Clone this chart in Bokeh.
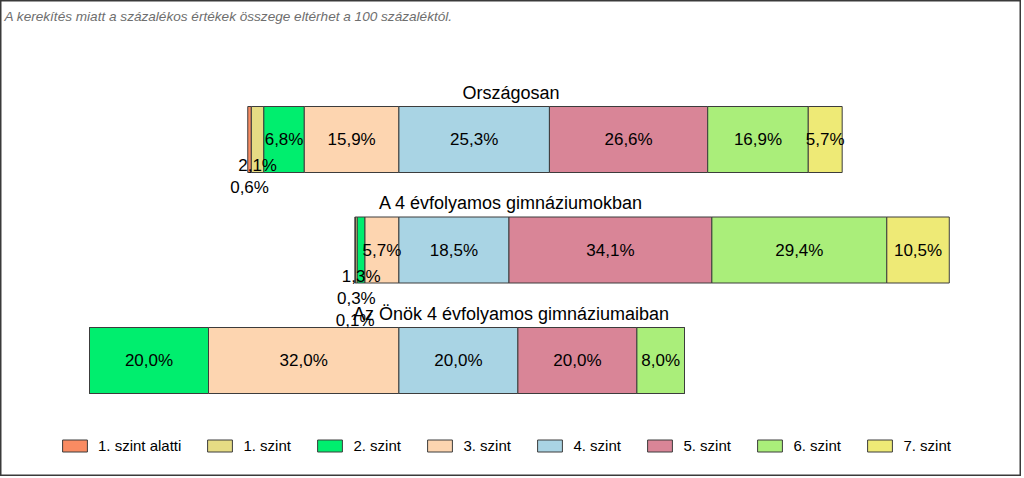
from bokeh.plotting import figure
from bokeh.models import ColumnDataSource, Range1d, Legend, LegendItem, Label
from bokeh.core.properties import value
from bokeh.embed import file_html
from bokeh.resources import INLINE

# ---------------- data ----------------
categories = ["Országosan", "A 4 évfolyamos gimnáziumokban", "Az Önök 4 évfolyamos gimnáziumaiban"]
levels = ["1. szint alatti", "1. szint", "2. szint", "3. szint", "4. szint", "5. szint", "6. szint", "7. szint"]
szint_alatti = [0.6, 0.1, 0.0]
szint_1 = [2.1, 0.3, 0.0]
szint_2 = [6.8, 1.3, 20.0]
szint_3 = [15.9, 5.7, 32.0]
szint_4 = [25.3, 18.5, 20.0]
szint_5 = [26.6, 34.1, 20.0]
szint_6 = [16.9, 29.4, 8.0]
szint_7 = [5.7, 10.5, 0.0]
series = [szint_alatti, szint_1, szint_2, szint_3, szint_4, szint_5, szint_6, szint_7]
note = "A kerekítés miatt a  százalékos értékek összege eltérhet a 100 százaléktól."

colors = ["#F98B62", "#E6DC84", "#00EE6E", "#FDD5B0", "#A9D4E4", "#D98597", "#AAEE7A", "#EEEA76"]
FONT = "Liberation Sans"

W, H = 1021, 476
px_per_unit = 5.95
zero_px = 398.4
row_px0, row_step = 139.0, 110.5

x_start = -zero_px / px_per_unit
x_end = (W - zero_px) / px_per_unit
y_top = -row_px0 / row_step
y_bottom = (H - row_px0) / row_step

p = figure(width=W, height=H, output_backend="svg", toolbar_location=None,
           x_range=Range1d(x_start, x_end), y_range=Range1d(y_bottom, y_top),
           min_border=0, min_border_left=0, min_border_right=0, min_border_top=0, min_border_bottom=0)
p.axis.visible = False
p.grid.visible = False
p.background_fill_color = "white"
p.border_fill_color = "white"
p.outline_line_color = "#3a3a3a"
p.outline_line_width = 2

rows = list(range(len(categories)))
# each bar is shifted so that the 3./4. szint boundary sits at 0
offsets = [-(series[0][r] + series[1][r] + series[2][r] + series[3][r]) for r in rows]

bar_h = 66 / row_step
renderers = []
lab_x, lab_y, lab_t, lab_dy = [], [], [], []
cum = list(offsets)
for j, s in enumerate(series):
    left = [cum[r] for r in rows]
    right = [cum[r] + s[r] for r in rows]
    src = ColumnDataSource(dict(y=rows, left=left, right=right))
    rr = p.hbar(y="y", left="left", right="right", height=bar_h, source=src,
                fill_color=colors[j], line_color="#3c3c3c", line_width=1)
    renderers.append(rr)
    cum = right

# labels
for r in rows:
    vals = [s[r] for s in series]
    pos = offsets[r]
    small_idx = [j for j, v in enumerate(vals) if 0 < v < 3]
    small_rank = {j: len(small_idx) - k for k, j in enumerate(small_idx)}
    for j, v in enumerate(vals):
        if v > 0:
            lab_x.append(pos + v / 2)
            lab_y.append(r)
            lab_t.append(f"{v:.1f}%".replace(".", ","))
            if j in small_rank:
                lab_dy.append(26 + 22 * (small_rank[j] - 1))
            else:
                lab_dy.append(0)
        pos += v

lsrc = ColumnDataSource(dict(x=lab_x, y=lab_y, t=lab_t, dy=lab_dy))
p.text(x="x", y="y", text="t", y_offset="dy", source=lsrc, text_align="center",
       text_baseline="middle", text_font=value(FONT), text_font_size="17px", text_color="#000000")

# titles centred over the frame
tsrc = ColumnDataSource(dict(x=[(x_start + x_end) / 2] * len(rows), y=rows, t=categories))
p.text(x="x", y="y", text="t", y_offset=-47, source=tsrc, text_align="center",
       text_baseline="middle", text_font=value(FONT), text_font_size="18px", text_color="#000000")

# note
p.add_layout(Label(x=4, y=H - 16, x_units="screen", y_units="screen", text=note,
                   text_font=FONT, text_font_style="italic", text_font_size="13.6px",
                   text_color="#6e6e6e", text_baseline="alphabetic"))

legend = Legend(items=[LegendItem(label=levels[j], renderers=[renderers[j]]) for j in range(len(levels))],
                orientation="horizontal", location=(59, 22), padding=0, margin=0, spacing=23,
                glyph_width=31, glyph_height=15, label_height=15, label_width=48, label_standoff=8,
                label_text_font=FONT, label_text_font_size="15px", label_text_color="#000000",
                border_line_color=None, background_fill_alpha=0)
p.add_layout(legend, "center")

open("out.html", "w").write(file_html(p, INLINE))
